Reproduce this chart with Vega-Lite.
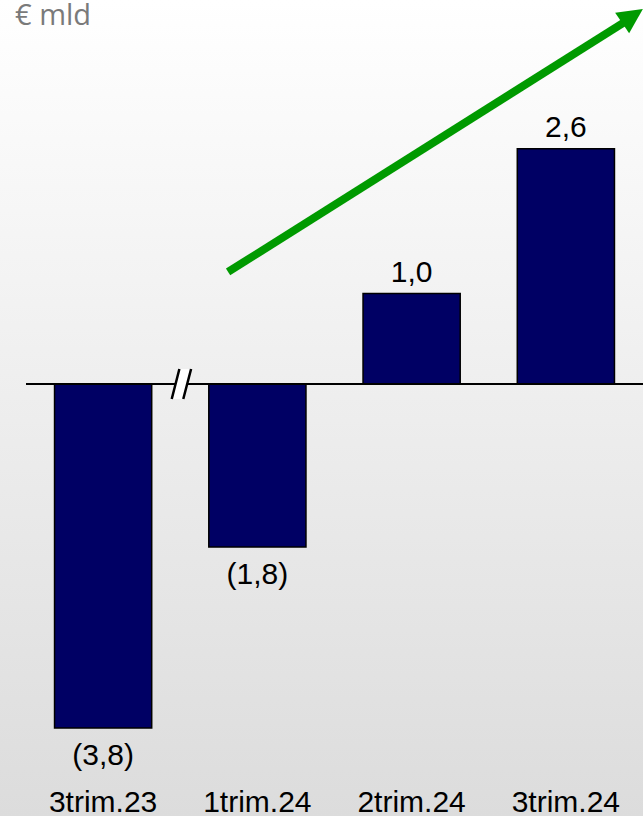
{
  "$schema": "https://vega.github.io/schema/vega-lite/v6.json",
  "width": 643,
  "height": 816,
  "autosize": {"type": "none"},
  "padding": 0,
  "background": "#ffffff",
  "config": {
    "view": {
      "stroke": null,
      "fill": {"gradient": "linear", "x1": 0, "y1": 0, "x2": 0, "y2": 1, "stops": [{"offset": 0, "color": "#ffffff"}, {"offset": 1, "color": "#dcdcdc"}]}
    }
  },
  "datasets": {
    "bars": [
      {"cat": "3trim.23", "value": -3.8, "label": "(3,8)"},
      {"cat": "1trim.24", "value": -1.8, "label": "(1,8)"},
      {"cat": "2trim.24", "value": 1.0, "label": "1,0"},
      {"cat": "3trim.24", "value": 2.6, "label": "2,6"}
    ],
    "zero": [{"x": 0, "x2": 4, "y": 0}],
    "brk": [{"x": 1.007, "y": 0}],
    "arrow": [{"x": 1.31, "y": 1.238, "x2": 3.89, "y2": 4.01}],
    "head": [{"x": 3.932, "y": 4.066}],
    "unit": [{"x": -0.071, "y": 3.97, "t": "€ mld"}]
  },
  "layer": [
    {
      "data": {"name": "bars"},
      "encoding": {
        "x": {"field": "cat", "type": "nominal", "sort": null,
              "scale": {"range": [26, 643], "paddingInner": 0.37, "paddingOuter": 0.185},
              "axis": {"orient": "bottom", "domain": false, "ticks": false, "tickSize": 0, "grid": false, "title": null, "labelAngle": 0, "labelFontSize": 30, "labelFont": "Liberation Sans", "labelColor": "#000000", "labelPadding": 0, "labelBaseline": "alphabetic", "offset": -5}},
        "y": {"field": "value", "type": "quantitative", "scale": {"domain": [-4.773, 4.243], "nice": false, "zero": false}, "axis": null}
      },
      "layer": [
        {"mark": {"type": "bar", "color": "#000064", "stroke": "#000000", "strokeWidth": 1.5}, "encoding": {"y2": {"datum": 0}}},
        {"transform": [{"filter": "datum.value > 0"}], "mark": {"type": "text", "font": "Liberation Sans", "fontSize": 30, "color": "#000000", "baseline": "alphabetic", "dy": -12}, "encoding": {"text": {"field": "label"}}},
        {"transform": [{"filter": "datum.value < 0"}], "mark": {"type": "text", "font": "Liberation Sans", "fontSize": 30, "color": "#000000", "baseline": "alphabetic", "dy": 37}, "encoding": {"text": {"field": "label"}}}
      ]
    },
    {
      "layer": [
        {"data": {"name": "zero"}, "mark": {"type": "rule", "color": "#000000", "strokeWidth": 2},
         "encoding": {"x": {"field": "x", "type": "quantitative", "scale": {"domain": [0, 4], "range": [26, 643], "nice": false, "zero": false}, "axis": null},
                      "x2": {"field": "x2"},
                      "y": {"field": "y", "type": "quantitative", "axis": null}}},
        {"data": {"name": "brk"}, "mark": {"type": "point", "shape": "M-0.64,1L-0.13,-1L0.65,-1L0.13,1Z", "size": 900, "filled": true, "fill": "#ffffff", "strokeWidth": 0, "opacity": 1},
         "encoding": {"x": {"field": "x", "type": "quantitative", "scale": {"domain": [0, 4], "range": [26, 643], "nice": false, "zero": false}, "axis": null},
                      "y": {"field": "y", "type": "quantitative", "axis": null}}},
        {"data": {"name": "brk"}, "mark": {"type": "point", "shape": "M-0.64,1L-0.13,-1M0.13,1L0.65,-1", "size": 900, "filled": false, "stroke": "#000000", "strokeWidth": 2.5, "opacity": 1},
         "encoding": {"x": {"field": "x", "type": "quantitative", "scale": {"domain": [0, 4], "range": [26, 643], "nice": false, "zero": false}, "axis": null},
                      "y": {"field": "y", "type": "quantitative", "axis": null}}},
        {"data": {"name": "arrow"}, "mark": {"type": "rule", "color": "#009a00", "strokeWidth": 8, "strokeCap": "butt"},
         "encoding": {"x": {"field": "x", "type": "quantitative", "scale": {"domain": [0, 4], "range": [26, 643], "nice": false, "zero": false}, "axis": null},
                      "x2": {"field": "x2"},
                      "y": {"field": "y", "type": "quantitative", "axis": null},
                      "y2": {"field": "y2"}}},
        {"data": {"name": "head"}, "mark": {"type": "point", "shape": "M1,0L-1,-1L-1,1Z", "size": 625, "filled": true, "color": "#009a00", "strokeWidth": 0, "opacity": 1, "angle": 326},
         "encoding": {"x": {"field": "x", "type": "quantitative", "scale": {"domain": [0, 4], "range": [26, 643], "nice": false, "zero": false}, "axis": null},
                      "y": {"field": "y", "type": "quantitative", "axis": null}}},
        {"data": {"name": "unit"}, "mark": {"type": "text", "font": "Open Sans", "fontSize": 29, "color": "#7a7a7a", "align": "left", "baseline": "alphabetic"},
         "encoding": {"x": {"field": "x", "type": "quantitative", "scale": {"domain": [0, 4], "range": [26, 643], "nice": false, "zero": false}, "axis": null},
                      "y": {"field": "y", "type": "quantitative", "axis": null},
                      "text": {"field": "t"}}}
      ]
    }
  ],
  "resolve": {"scale": {"x": "independent"}, "axis": {"x": "independent"}}
}
